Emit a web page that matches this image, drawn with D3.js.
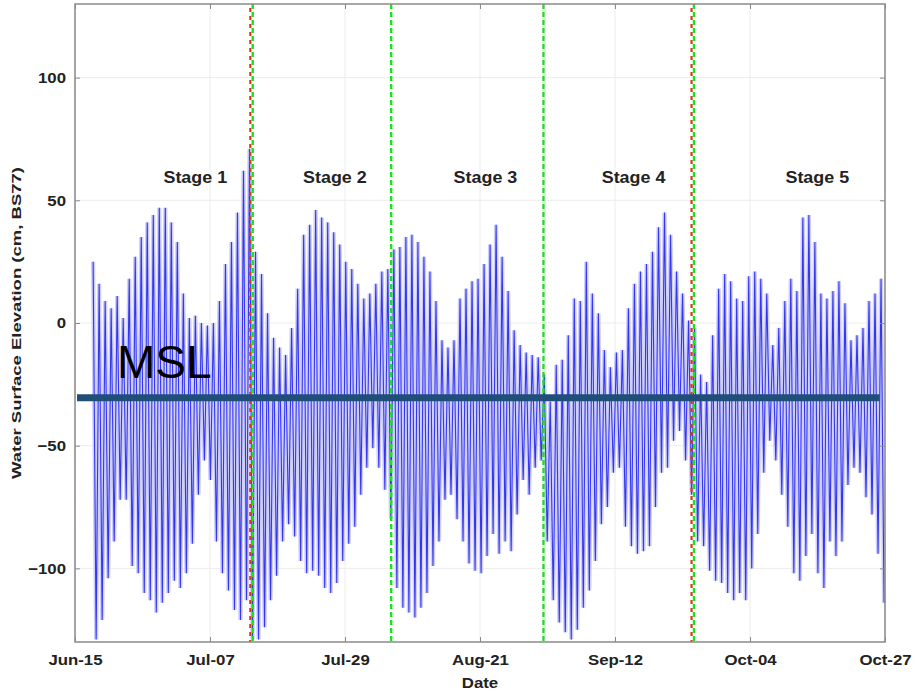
<!DOCTYPE html>
<html>
<head>
<meta charset="utf-8">
<script src="https://cdn.jsdelivr.net/npm/d3@7"></script>
<style>
body { margin: 0; background: #fff; }
text { font-family: Arial, "Liberation Sans", sans-serif; }
</style>
</head>
<body>
<svg width="913" height="693"></svg>
<script>
// daily high / low water (cm, BS77), one pair per tidal day from Jun-18
var highs = [25,16,9,6,11,2,18,27,35,41,44,47,47,41,33,12,2,3,0,-1,0,
    9,24,33,45,62,71,29,20,4,-6,-10,-13,-2,14,36,40,46,43,41,37,32,
    25,
    22,16,10,12,16,21,22,30,31,35,36,33,27,21,9,-7,-10,-7,10,14,17,
    18,24,
    32,40,27,13,-3,-9,-12,-13,-14,-21,-32,-17,-15,-5,10,9,25,12,4,-11,-18,
    -12,
    -11,6,16,21,24,29,39,45,36,21,12,1,-2,-21,-24,-5,14,20,17,10,9,
    19,
    21,18,12,-9,-2,9,18,13,43,44,33,12,10,13,17,8,-7,-5,-2,9,12,18];
var lows = [-129,-121,-104,-89,-72,-72,-99,-102,-110,-113,-118,-114,-110,-105,-108,-102,-90,-70,-56,-64,-89,
    -102,-109,-117,-121,-113,-129,-129,-124,-113,-103,-89,-82,-87,-97,-102,-101,-103,-108,-110,-106,-97,
    -90,
    -83,-70,-59,-51,-59,-68,-80,-108,-116,-118,-120,-116,-110,-99,-89,-72,-70,-80,-89,-98,-101,
    -102,-95,
    -86,-94,-89,-93,-78,-64,-70,-59,-56,-89,-113,-122,-126,-129,-125,-116,-109,-97,-82,-75,-61,
    -59,
    -83,-91,-94,-93,-91,-75,-61,-59,-48,-44,-56,-70,-89,-91,-101,-105,-106,-110,-113,-110,-113,
    -100,
    -86,-61,-48,-56,-70,-83,-102,-105,-95,-86,-102,-108,-89,-95,-89,-66,-59,-61,-71,-78,-94,-114];

var firstDay = 3, tideStep = 0.995;   // days after Jun-15
var totalDays = 134;

var dateLabels = ["Jun-15", "Jul-07", "Jul-29", "Aug-21", "Sep-12", "Oct-04", "Oct-27"];
var yTicks = [-100, -50, 0, 50, 100];

var stageNames = ["Stage 1", "Stage 2", "Stage 3", "Stage 4", "Stage 5"];
var stageMid = [19.9, 43, 67.9, 92.4, 122.8];
var stageBreaks = [29.4, 52.3, 77.5, 102.4];
var redBreaks = [29.0, 102.0];
var msl = -30.5;

var svg = d3.select("svg"),
    plotL = 75, plotR = 885, plotT = 4, plotB = 642;

var x = d3.scaleLinear().domain([0, totalDays]).range([plotL, plotR]);
var y = d3.scaleLinear().domain([-130, 130]).range([plotB, plotT]);

// grid
var xTickDays = dateLabels.map(function(d, i) { return i * totalDays / (dateLabels.length - 1); });
svg.append("g").selectAll("line").data(xTickDays).enter().append("line")
    .attr("x1", d => x(d)).attr("x2", d => x(d)).attr("y1", plotT).attr("y2", plotB)
    .attr("stroke", "#ececec").attr("stroke-width", 1);
svg.append("g").selectAll("line").data(yTicks).enter().append("line")
    .attr("x1", plotL).attr("x2", plotR).attr("y1", d => y(d)).attr("y2", d => y(d))
    .attr("stroke", "#ececec").attr("stroke-width", 1);

// tide series: high then low each tidal day
var pts = [];
highs.forEach(function(h, i) {
    var t = firstDay + i * tideStep;
    pts.push([t, h]);
    pts.push([t + tideStep * 0.5, lows[i]]);
});
var line = d3.line().x(d => x(d[0])).y(d => y(d[1]));

svg.append("path").datum(pts)
    .attr("d", line).attr("fill", "none")
    .attr("stroke", "#cdcff8").attr("stroke-width", 4.2);
svg.append("path").datum(pts)
    .attr("d", line).attr("fill", "none")
    .attr("stroke", "#3535f2").attr("stroke-width", 1.1);

// stage boundaries
svg.append("g").selectAll("line").data(redBreaks).enter().append("line")
    .attr("x1", d => x(d)).attr("x2", d => x(d)).attr("y1", plotT).attr("y2", plotB)
    .attr("stroke", "#e8321c").attr("stroke-width", 2.2)
    .attr("stroke-dasharray", "4,4").attr("stroke-dashoffset", 4);
svg.append("g").selectAll("line").data(stageBreaks).enter().append("line")
    .attr("x1", d => x(d)).attr("x2", d => x(d)).attr("y1", plotT).attr("y2", plotB)
    .attr("stroke", "#1ee01e").attr("stroke-width", 2.4)
    .attr("stroke-dasharray", "5,3");

// stage labels
svg.append("g").selectAll("text").data(stageNames).enter().append("text")
    .attr("transform", (d, i) => "translate(" + x(stageMid[i]) + "," + 183 + ") scale(1.12,1)")
    .attr("text-anchor", "middle").attr("font-size", 16).attr("font-weight", "bold")
    .attr("fill", "#222").text(d => d);

// frame
svg.append("rect").attr("x", plotL).attr("y", plotT)
    .attr("width", plotR - plotL).attr("height", plotB - plotT)
    .attr("fill", "none").attr("stroke", "#8a8a8a").attr("stroke-width", 1.5);

// y axis
var yAxis = d3.axisLeft(y).tickValues(yTicks).tickSizeInner(-5).tickSizeOuter(0).tickPadding(10);
var gy = svg.append("g").attr("transform", "translate(" + plotL + ",0)").call(yAxis);
gy.select(".domain").remove();
gy.selectAll("line").attr("stroke", "#8a8a8a");
gy.selectAll("text").attr("font-size", 15).attr("font-weight", "bold").attr("fill", "#222")
    .attr("font-family", "Arial, 'Liberation Sans', sans-serif")
    .attr("transform", "scale(1.12,1)").attr("x", -9 / 1.12);

var yAxisR = d3.axisRight(y).tickValues(yTicks).tickSizeInner(-5).tickSizeOuter(0).tickFormat("");
var gyr = svg.append("g").attr("transform", "translate(" + plotR + ",0)").call(yAxisR);
gyr.select(".domain").remove();
gyr.selectAll("line").attr("stroke", "#8a8a8a");

// x axis
var xAxis = d3.axisBottom(x).tickValues(xTickDays).tickSizeInner(-5).tickSizeOuter(0)
    .tickPadding(12).tickFormat((d, i) => dateLabels[i]);
var gx = svg.append("g").attr("transform", "translate(0," + plotB + ")").call(xAxis);
gx.select(".domain").remove();
gx.selectAll("line").attr("stroke", "#8a8a8a");
gx.selectAll("text").attr("font-size", 15).attr("font-weight", "bold").attr("fill", "#222")
    .attr("font-family", "Arial, 'Liberation Sans', sans-serif")
    .attr("transform", "scale(1.12,1)");

var xAxisT = d3.axisTop(x).tickValues(xTickDays).tickSizeInner(-5).tickSizeOuter(0).tickFormat("");
var gxt = svg.append("g").attr("transform", "translate(0," + plotT + ")").call(xAxisT);
gxt.select(".domain").remove();
gxt.selectAll("line").attr("stroke", "#8a8a8a");

// axis titles
svg.append("text").attr("transform", "translate(" + (plotL + plotR) / 2 + ",688) scale(1.12,1)")
    .attr("text-anchor", "middle").attr("font-size", 15).attr("font-weight", "bold")
    .attr("fill", "#222").text("Date");
svg.append("text").attr("transform", "translate(21," + y(0) + ") rotate(-90)")
    .attr("text-anchor", "middle").attr("font-size", 13).attr("font-weight", "bold")
    .attr("textLength", 312).attr("lengthAdjust", "spacingAndGlyphs")
    .attr("fill", "#222").text("Water Surface Elevation (cm, BS77)");

// mean sea level
svg.append("line")
    .attr("x1", plotL + 2).attr("x2", x(133.1))
    .attr("y1", y(msl)).attr("y2", y(msl))
    .attr("stroke", "#1f4e79").attr("stroke-width", 7);
svg.append("text").attr("x", 117).attr("y", 378)
    .attr("font-size", 46).attr("fill", "#000").text("MSL");
</script>
</body>
</html>
